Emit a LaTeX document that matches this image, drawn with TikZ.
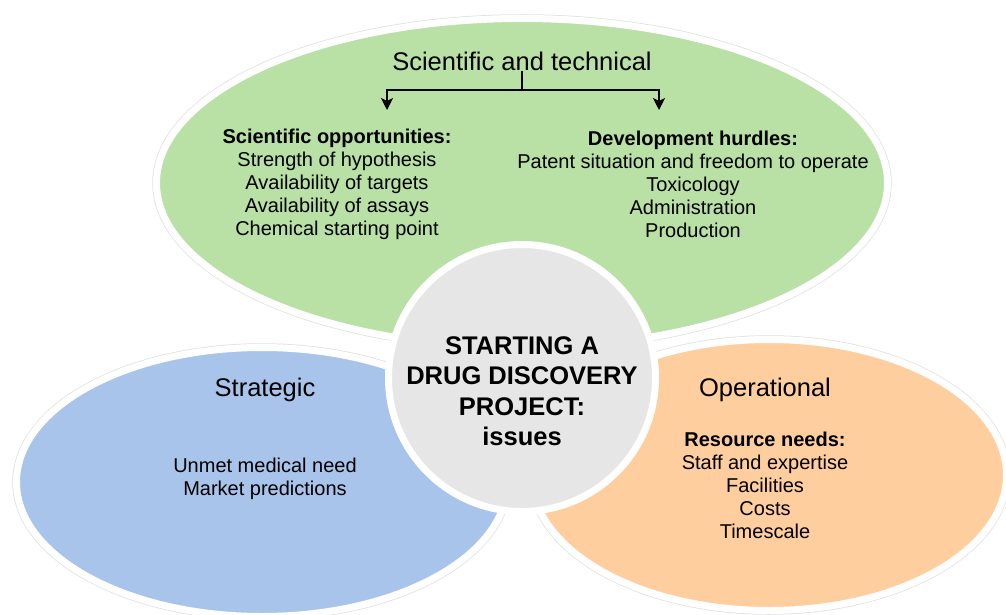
\documentclass[tikz,border=0pt]{standalone}
\usepackage{fontspec}
\setmainfont{Liberation Sans}
\usepackage{tikz}
\usetikzlibrary{shapes.geometric}
\usetikzlibrary{arrows.meta}
\usetikzlibrary{positioning}
\definecolor{scigreen}{HTML}{B9E0A5}
\definecolor{stratblue}{HTML}{A9C4EB}
\definecolor{operorange}{HTML}{FFCE9F}
\definecolor{hubgrey}{HTML}{E6E6E6}
\tikzstyle{area}=[ellipse,draw=white,line width=7,inner sep=0,
preaction={draw=black!12,line width=8.5}]
\tikzstyle{hub}=[circle,draw=white,line width=7,fill=hubgrey,inner sep=0,
minimum size=267]
\tikzstyle{head}=[inner sep=0,font=\fontsize{25.5}{30}\selectfont]
\tikzstyle{item}=[inner sep=0,align=center,font=\fontsize{20}{23}\selectfont]
\tikzstyle{hubtext}=[inner sep=0,align=center,
font=\bfseries\fontsize{25.5}{30.5}\selectfont]
\tikzstyle{branch}=[draw,line width=1.5,-{Stealth[length=12pt,width=12pt,inset=3pt]}]

\begin{document}
\begin{tikzpicture}[x=1pt,y=-1pt]
	\useasboundingbox (0,0) rectangle (1006,615);

	\node[area, fill=scigreen, minimum width=731, minimum height=329] (SCI) at (522,183) {};
	\node[area, fill=stratblue, minimum width=491, minimum height=269] (STRAT) at (262,482) {};
	\node[area, fill=operorange, minimum width=475, minimum height=271] (OPER) at (769,475) {};

	\node[hub] (HUB) at (522,378) {};
	\node[hubtext] (hubtxt) at (522,391) {STARTING A\\DRUG DISCOVERY\\PROJECT:\\issues};

% % % scientific and technical
	\node[head] (scititle) at (522,61) {Scientific and technical};
	\node[item] (opp) at (337,184.5) {\textbf{Scientific opportunities:}\\
	Strength of hypothesis\\Availability of targets\\
	Availability of assays\\Chemical starting point};
	\node[item] (hurd) at (693,184.5) {\textbf{Development hurdles:}\\
	Patent situation and freedom to operate\\Toxicology\\
	Administration\\Production};

	\coordinate (split) at (522,90);
	\coordinate (oppin) at (387,110);
	\coordinate (hurdin) at (659,110);
	\path[draw,line width=1.5] (scititle) -- (split);
	\path[branch] (split) -| (oppin);
	\path[branch] (split) -| (hurdin);

% % % strategic
	\node[head] (strattitle) at (265,390) {Strategic};
	\node[item] (strattxt) at (265,478.5) {Unmet medical need\\Market predictions};

% % % operational
	\node[head] (opertitle) at (765,390) {Operational};
	\node[item] (opertxt) at (765,485.5) {\textbf{Resource needs:}\\
	Staff and expertise\\Facilities\\Costs\\Timescale};
\end{tikzpicture}
\end{document}
